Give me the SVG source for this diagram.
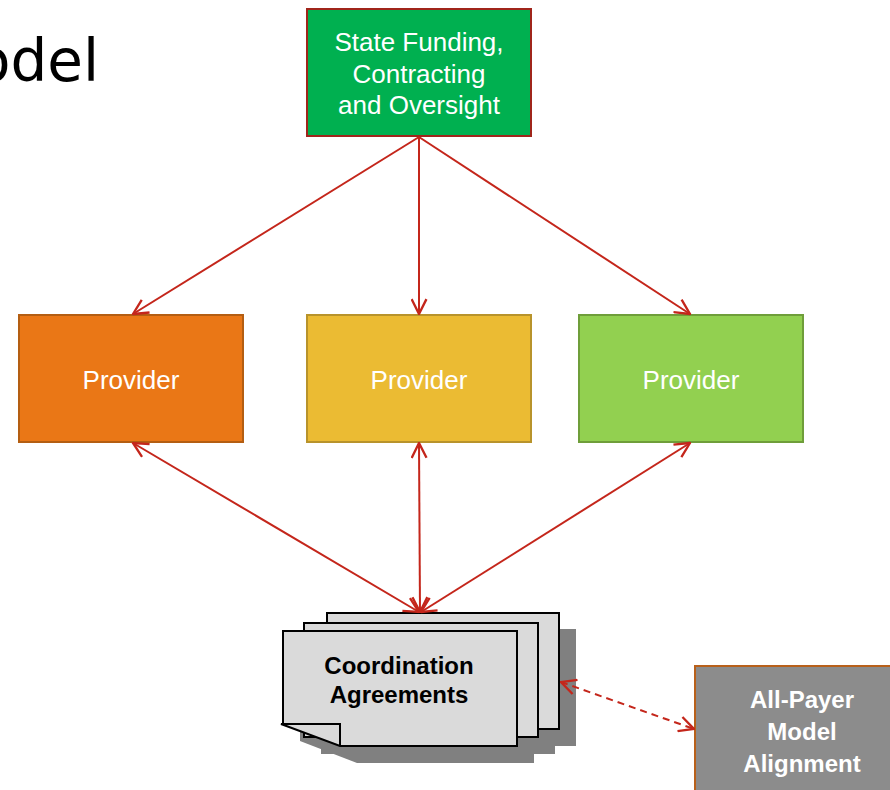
<svg xmlns="http://www.w3.org/2000/svg" width="890" height="790" viewBox="0 0 890 790">
<style>
.wt{font-family:"Liberation Sans",Arial,sans-serif;font-size:26px;fill:#fff;text-anchor:middle}
.bt{font-family:"Liberation Sans",Arial,sans-serif;font-size:24px;font-weight:bold;text-anchor:middle}
.ln{stroke:#C4261B;stroke-width:2;fill:none}
.doc{fill:#DADADA;stroke:#000;stroke-width:2}
.sh{fill:#808080}
</style>
<defs>
<marker id="ah" viewBox="0 0 16 16" refX="15" refY="8" markerWidth="17" markerHeight="17" markerUnits="userSpaceOnUse" orient="auto-start-reverse">
<path d="M1,1 L15,8 L1,15" fill="none" stroke="#C4261B" stroke-width="2.2"/>
</marker>
</defs>
<rect width="890" height="790" fill="#fff"/>
<text x="99" y="81" font-family="'DejaVu Sans',sans-serif" font-size="58" text-anchor="end" fill="#000">odel</text>

<g id="state">
<rect x="307" y="9" width="224" height="127" fill="#00B050" stroke="#A0251B" stroke-width="2"/>
<text class="wt" x="419" y="51">State Funding,</text>
<text class="wt" x="419" y="83">Contracting</text>
<text class="wt" x="419" y="114">and Oversight</text>
</g>

<g id="provider1">
<rect x="19" y="315" width="224" height="127" fill="#EA7716" stroke="#B45E12" stroke-width="2"/>
<text class="wt" x="131" y="389">Provider</text>
</g>
<g id="provider2">
<rect x="307" y="315" width="224" height="127" fill="#EBBB33" stroke="#B8932B" stroke-width="2"/>
<text class="wt" x="419" y="389">Provider</text>
</g>
<g id="provider3">
<rect x="579" y="315" width="224" height="127" fill="#92D050" stroke="#6F9E3A" stroke-width="2"/>
<text class="wt" x="691" y="389">Provider</text>
</g>

<g id="coordination">
<rect class="sh" x="344" y="629" width="232" height="117"/>
<rect class="sh" x="321" y="639" width="234" height="115"/>
<path class="sh" d="M300,647 L534,647 L534,763 L357,763 L300,741 Z"/>
<rect class="doc" x="327" y="613" width="232" height="116"/>
<rect class="doc" x="304" y="623" width="234" height="114"/>
<path class="doc" d="M283,631 L517,631 L517,746 L340,746 L281,724 L283,724 Z"/>
<path d="M281,724 L340,724 L340,746" fill="none" stroke="#000" stroke-width="2"/>
<text class="bt" x="399" y="674">Coordination</text>
<text class="bt" x="399" y="703">Agreements</text>
</g>

<g id="allpayer">
<rect x="695" y="666" width="200" height="130" fill="#8C8C8C" stroke="#B8601A" stroke-width="2"/>
<text class="bt" x="802" y="708" fill="#fff" font-size="26">All-Payer</text>
<text class="bt" x="802" y="740" fill="#fff" font-size="26">Model</text>
<text class="bt" x="802" y="772" fill="#fff" font-size="26">Alignment</text>
</g>

<g id="connectors">
<line class="ln" x1="419" y1="137" x2="133" y2="314" marker-end="url(#ah)"/>
<line class="ln" x1="419" y1="137" x2="419" y2="314" marker-end="url(#ah)"/>
<line class="ln" x1="419" y1="137" x2="690" y2="314" marker-end="url(#ah)"/>
<line class="ln" x1="133" y1="443" x2="419" y2="612" marker-start="url(#ah)" marker-end="url(#ah)"/>
<line class="ln" x1="419" y1="443" x2="420" y2="612" marker-start="url(#ah)" marker-end="url(#ah)"/>
<line class="ln" x1="690" y1="443" x2="421" y2="612" marker-start="url(#ah)" marker-end="url(#ah)"/>
<line class="ln" x1="561" y1="682" x2="694" y2="729" stroke-dasharray="7,5" marker-start="url(#ah)" marker-end="url(#ah)"/>
</g>
</svg>
